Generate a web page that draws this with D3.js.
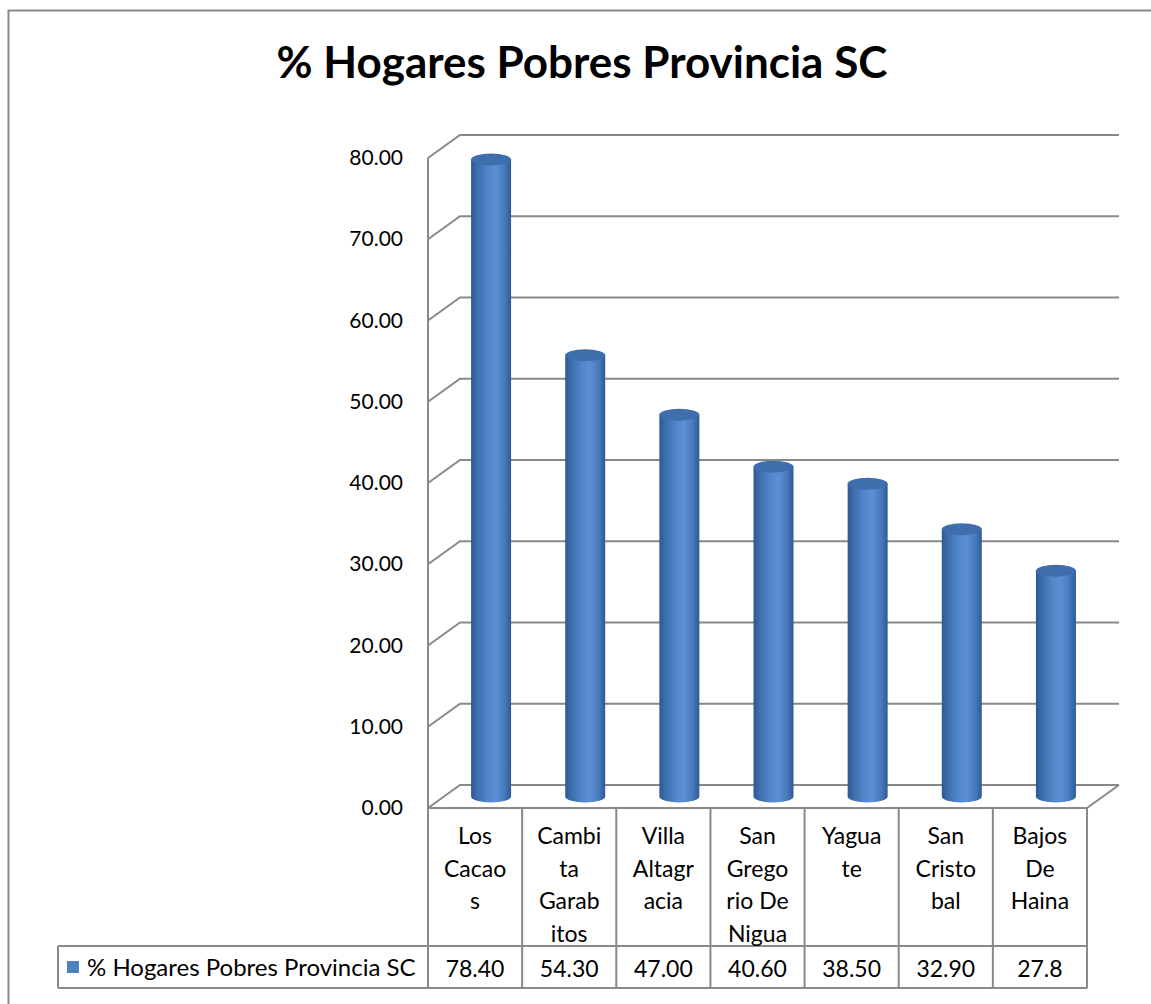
<!DOCTYPE html>
<html>
<head>
<meta charset="utf-8">
<script src="https://cdn.jsdelivr.net/npm/d3@7"></script>
<style>
  html, body { margin: 0; padding: 0; background: #fff; }
  svg { display: block; }
  text { font-family: Lato, "Open Sans", sans-serif; fill: #000; }
</style>
</head>
<body>
<svg id="chart" width="1151" height="1004"></svg>
<script>
const title = "% Hogares Pobres Provincia SC";
const seriesName = "% Hogares Pobres Provincia SC";
const categories = ["Los Cacaos", "Cambita Garabitos", "Villa Altagracia", "San Gregorio De Nigua", "Yaguate", "San Cristobal", "Bajos De Haina"];
const categoryLines = [
  ["Los", "Cacao", "s"],
  ["Cambi", "ta", "Garab", "itos"],
  ["Villa", "Altagr", "acia"],
  ["San", "Grego", "rio De", "Nigua"],
  ["Yagua", "te"],
  ["San", "Cristo", "bal"],
  ["Bajos", "De", "Haina"]
];
const values = [78.40, 54.30, 47.00, 40.60, 38.50, 32.90, 27.8];
const valueLabels = ["78.40", "54.30", "47.00", "40.60", "38.50", "32.90", "27.8"];
const yTicks = [0, 10, 20, 30, 40, 50, 60, 70, 80];

const svg = d3.select("#chart");
const gridColor = "#898989";

// outer frame
svg.append("rect").attr("x", 8.5).attr("y", 10.5).attr("width", 1160).attr("height", 1010)
  .attr("fill", "none").attr("stroke", gridColor).attr("stroke-width", 2);

// title
svg.append("text").attr("x", 582).attr("y", 78).attr("text-anchor", "middle")
  .attr("font-size", 44).attr("font-weight", "bold").text(title);

// geometry
const x0 = 428, x1 = 1087;
const yBase = 808, yTop = 158;
const dx = 32, dy = -23;

const x = d3.scaleBand().domain(categories).range([x0, x1]).paddingInner(0).paddingOuter(0);
const y = d3.scaleLinear().domain([0, 80]).range([yBase, yTop]);

const g = svg.append("g");

// gridlines on left wall + back wall
yTicks.forEach(t => {
  const yy = y(t);
  g.append("path")
    .attr("d", `M${x0},${yy} L${x0 + dx},${yy + dy} L${x1 + dx},${yy + dy}`)
    .attr("fill", "none").attr("stroke", gridColor).attr("stroke-width", 2);
});
// front vertical axis line
g.append("line").attr("x1", x0).attr("x2", x0).attr("y1", y(80)).attr("y2", y(0))
  .attr("stroke", gridColor).attr("stroke-width", 2);
// floor right edge
g.append("line").attr("x1", x1).attr("y1", y(0)).attr("x2", x1 + dx).attr("y2", y(0) + dy)
  .attr("stroke", gridColor).attr("stroke-width", 2);

// y axis labels
const yAxis = d3.axisLeft(y).tickValues(yTicks).tickFormat(d3.format(".2f")).tickSize(0).tickPadding(25);
const ya = svg.append("g").attr("transform", `translate(${x0},0)`).call(yAxis);
ya.select(".domain").remove();
ya.selectAll("text").attr("font-size", 21).attr("font-family", "Lato, sans-serif").attr("fill", "#000");

// gradient for cylinders
const defs = svg.append("defs");
const grad = defs.append("linearGradient").attr("id", "cyl").attr("x1", "0%").attr("x2", "100%").attr("y1", "0%").attr("y2", "0%");
[["0%", "#2d5891"], ["12%", "#3b6aa9"], ["40%", "#5085c8"], ["62%", "#5b90d6"], ["85%", "#4677ba"], ["100%", "#2e5a93"]]
  .forEach(([o, c]) => grad.append("stop").attr("offset", o).attr("stop-color", c));

// cylinders
const bw = 40, ry = 6;
const bars = g.selectAll(".bar").data(values).join("g").attr("class", "bar");
bars.each(function (v, i) {
  const cx = x(categories[i]) + x.bandwidth() / 2 + dx / 2;
  const yb = y(0) + dy / 2;
  const yt = y(v) + dy / 2;
  const rx = bw / 2;
  const sel = d3.select(this);
  sel.append("path")
    .attr("d", `M${cx - rx},${yt} L${cx - rx},${yb} A${rx},${ry} 0 0 0 ${cx + rx},${yb} L${cx + rx},${yt} Z`)
    .attr("fill", "url(#cyl)");
  sel.append("ellipse").attr("cx", cx).attr("cy", yt).attr("rx", rx).attr("ry", ry)
    .attr("fill", "#3f6eac");
});

// data table
const tRowTop = yBase, tRowMid = 946, tRowBot = 988, legendLeft = 58;
const tbl = svg.append("g");
const cols = categories.map(c => x(c));
// horizontal lines
tbl.append("line").attr("x1", x0).attr("x2", x1).attr("y1", tRowTop).attr("y2", tRowTop).attr("stroke", gridColor).attr("stroke-width", 2);
tbl.append("line").attr("x1", legendLeft).attr("x2", x1).attr("y1", tRowMid).attr("y2", tRowMid).attr("stroke", gridColor).attr("stroke-width", 2);
tbl.append("line").attr("x1", legendLeft).attr("x2", x1).attr("y1", tRowBot).attr("y2", tRowBot).attr("stroke", gridColor).attr("stroke-width", 2);
// vertical lines
cols.concat([x1]).forEach(cx => {
  tbl.append("line").attr("x1", cx).attr("x2", cx).attr("y1", tRowTop).attr("y2", tRowBot).attr("stroke", gridColor).attr("stroke-width", 2);
});
tbl.append("line").attr("x1", legendLeft).attr("x2", legendLeft).attr("y1", tRowMid).attr("y2", tRowBot).attr("stroke", gridColor).attr("stroke-width", 2);

// category labels
categories.forEach((c, i) => {
  const cx = x(c) + x.bandwidth() / 2;
  const t = tbl.append("text").attr("text-anchor", "middle").attr("font-size", 23);
  categoryLines[i].forEach((ln, k) => {
    t.append("tspan").attr("x", cx).attr("y", 844 + k * 32.5).text(ln);
  });
});
// value labels
valueLabels.forEach((lab, i) => {
  tbl.append("text").attr("x", x(categories[i]) + x.bandwidth() / 2).attr("y", 977)
    .attr("text-anchor", "middle").attr("font-size", 23).text(lab);
});
// legend
tbl.append("rect").attr("x", 67).attr("y", 961).attr("width", 12).attr("height", 12).attr("fill", "#4f81bd");
tbl.append("text").attr("x", 87).attr("y", 976).attr("font-size", 24).text(seriesName);
</script>
</body>
</html>
